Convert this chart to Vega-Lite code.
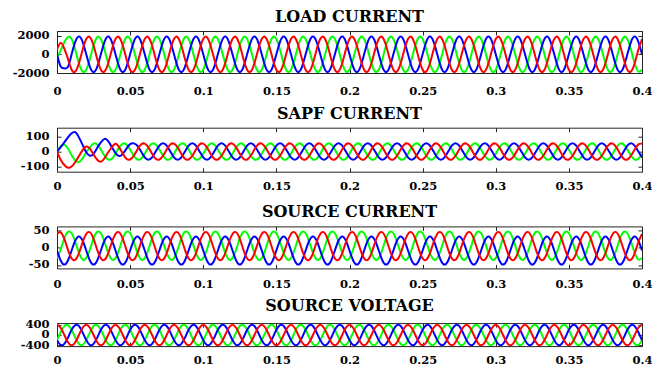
{"$schema":"https://vega.github.io/schema/vega-lite/v6.json","background":"white","padding":{"left":11,"top":8,"right":0,"bottom":0},"bounds":"flush","spacing":54.7,
"config":{"axis":{"title":null,"grid":false,"domain":false,"tickSize":-4,"tickColor":"#262626","labelFont":"DejaVu Serif","labelFontWeight":"bold","labelFontSize":11.5,"labelColor":"#000000","labelOverlap":false,"labelFlush":false,"labelBound":false},"axisX":{"labelPadding":14},"axisY":{"labelPadding":12},"view":{"stroke":"#262626","strokeWidth":1},"title":{"font":"DejaVu Serif","fontWeight":"bold","fontSize":16,"color":"#000000","anchor":"middle","offset":5}},
"data":{"values":[
{"t":0,"l1":-300,"l2":0,"l3":500,"s1":0,"s2":0,"s3":0,"c1":-30,"c2":-8,"c3":40,"v1":-200,"v2":-200,"v3":400},
{"t":0.0025,"l1":400,"l2":-1300,"l3":1250,"s1":35,"s2":30,"s3":-55,"c1":-5,"c2":-37,"c3":45,"v1":104,"v2":-386,"v3":282},
{"t":0.005,"l1":1300,"l2":-1500,"l3":600,"s1":45,"s2":62,"s3":-90,"c1":27,"c2":-49,"c3":26,"v1":346,"v2":-346,"v3":0},
{"t":0.0075,"l1":1835,"l2":-1343,"l3":-492,"s1":20,"s2":95,"s3":-108,"c1":46,"c2":-37,"c3":-6,"v1":386,"v2":-104,"v3":-282},
{"t":0.01,"l1":1645,"l2":0,"l3":-1645,"s1":-25,"s2":122,"s3":-100,"c1":42,"c2":-8,"c3":-31,"v1":200,"v2":200,"v3":-400},
{"t":0.0125,"l1":492,"l2":1343,"l3":-1835,"s1":-60,"s2":130,"s3":-70,"c1":17,"c2":21,"c3":-35,"v1":-104,"v2":386,"v3":-282},
{"t":0.015,"l1":-950,"l2":1900,"l3":-950,"s1":-70,"s2":95,"s3":-30,"c1":-15,"c2":33,"c3":-16,"v1":-346,"v2":346,"v3":0},
{"t":0.0175,"l1":-1835,"l2":1343,"l3":492,"s1":-45,"s2":45,"s3":10,"c1":-34,"c2":21,"c3":16,"v1":-386,"v2":104,"v3":282},
{"t":0.02,"l1":-1645,"l2":0,"l3":1645,"s1":-5,"s2":-5,"s3":34,"c1":-30,"c2":-8,"c3":40,"v1":-200,"v2":-200,"v3":400},
{"t":0.0225,"l1":-492,"l2":-1343,"l3":1835,"s1":28,"s2":-28,"s3":20,"c1":-5,"c2":-37,"c3":45,"v1":104,"v2":-386,"v3":282},
{"t":0.025,"l1":950,"l2":-1900,"l3":950,"s1":53,"s2":-15,"s3":-20,"c1":27,"c2":-49,"c3":26,"v1":346,"v2":-346,"v3":0},
{"t":0.0275,"l1":1835,"l2":-1343,"l3":-492,"s1":48,"s2":25,"s3":-55,"c1":46,"c2":-37,"c3":-6,"v1":386,"v2":-104,"v3":-282},
{"t":0.03,"l1":1645,"l2":0,"l3":-1645,"s1":14,"s2":62,"s3":-68,"c1":42,"c2":-8,"c3":-31,"v1":200,"v2":200,"v3":-400},
{"t":0.0325,"l1":492,"l2":1343,"l3":-1835,"s1":-28,"s2":85,"s3":-45,"c1":17,"c2":21,"c3":-35,"v1":-104,"v2":386,"v3":-282},
{"t":0.035,"l1":-950,"l2":1900,"l3":-950,"s1":-53,"s2":70,"s3":-5,"c1":-15,"c2":33,"c3":-16,"v1":-346,"v2":346,"v3":0},
{"t":0.0375,"l1":-1835,"l2":1343,"l3":492,"s1":-48,"s2":30,"s3":30,"c1":-34,"c2":21,"c3":16,"v1":-386,"v2":104,"v3":282},
{"t":0.04,"l1":-1645,"l2":0,"l3":1645,"s1":-14,"s2":-10,"s3":53,"c1":-30,"c2":-8,"c3":40,"v1":-200,"v2":-200,"v3":400},
{"t":0.0425,"l1":-492,"l2":-1343,"l3":1835,"s1":28,"s2":-30,"s3":28,"c1":-5,"c2":-37,"c3":45,"v1":104,"v2":-386,"v3":282},
{"t":0.045,"l1":950,"l2":-1900,"l3":950,"s1":53,"s2":-15,"s3":-14,"c1":27,"c2":-49,"c3":26,"v1":346,"v2":-346,"v3":0},
{"t":0.0475,"l1":1835,"l2":-1343,"l3":-492,"s1":48,"s2":20,"s3":-48,"c1":46,"c2":-37,"c3":-6,"v1":386,"v2":-104,"v3":-282},
{"t":0.05,"l1":1645,"l2":0,"l3":-1645,"s1":14,"s2":50,"s3":-53,"c1":42,"c2":-8,"c3":-31,"v1":200,"v2":200,"v3":-400},
{"t":0.0525,"l1":492,"l2":1343,"l3":-1835,"s1":-28,"s2":55,"s3":-28,"c1":17,"c2":21,"c3":-35,"v1":-104,"v2":386,"v3":-282},
{"t":0.055,"l1":-950,"l2":1900,"l3":-950,"s1":-53,"s2":39,"s3":14,"c1":-15,"c2":33,"c3":-16,"v1":-346,"v2":346,"v3":0},
{"t":0.0575,"l1":-1835,"l2":1343,"l3":492,"s1":-48,"s2":0,"s3":48,"c1":-34,"c2":21,"c3":16,"v1":-386,"v2":104,"v3":282},
{"t":0.06,"l1":-1645,"l2":0,"l3":1645,"s1":-14,"s2":-39,"s3":53,"c1":-30,"c2":-8,"c3":40,"v1":-200,"v2":-200,"v3":400},
{"t":0.0625,"l1":-492,"l2":-1343,"l3":1835,"s1":28,"s2":-55,"s3":28,"c1":-5,"c2":-37,"c3":45,"v1":104,"v2":-386,"v3":282},
{"t":0.065,"l1":950,"l2":-1900,"l3":950,"s1":53,"s2":-39,"s3":-14,"c1":27,"c2":-49,"c3":26,"v1":346,"v2":-346,"v3":0},
{"t":0.0675,"l1":1835,"l2":-1343,"l3":-492,"s1":48,"s2":0,"s3":-48,"c1":46,"c2":-37,"c3":-6,"v1":386,"v2":-104,"v3":-282},
{"t":0.07,"l1":1645,"l2":0,"l3":-1645,"s1":14,"s2":39,"s3":-53,"c1":42,"c2":-8,"c3":-31,"v1":200,"v2":200,"v3":-400},
{"t":0.0725,"l1":492,"l2":1343,"l3":-1835,"s1":-28,"s2":55,"s3":-28,"c1":17,"c2":21,"c3":-35,"v1":-104,"v2":386,"v3":-282},
{"t":0.075,"l1":-950,"l2":1900,"l3":-950,"s1":-53,"s2":39,"s3":14,"c1":-15,"c2":33,"c3":-16,"v1":-346,"v2":346,"v3":0},
{"t":0.0775,"l1":-1835,"l2":1343,"l3":492,"s1":-48,"s2":0,"s3":48,"c1":-34,"c2":21,"c3":16,"v1":-386,"v2":104,"v3":282},
{"t":0.08,"l1":-1645,"l2":0,"l3":1645,"s1":-14,"s2":-39,"s3":53,"c1":-30,"c2":-8,"c3":40,"v1":-200,"v2":-200,"v3":400},
{"t":0.0825,"l1":-492,"l2":-1343,"l3":1835,"s1":28,"s2":-55,"s3":28,"c1":-5,"c2":-37,"c3":45,"v1":104,"v2":-386,"v3":282},
{"t":0.085,"l1":950,"l2":-1900,"l3":950,"s1":53,"s2":-39,"s3":-14,"c1":27,"c2":-49,"c3":26,"v1":346,"v2":-346,"v3":0},
{"t":0.0875,"l1":1835,"l2":-1343,"l3":-492,"s1":48,"s2":0,"s3":-48,"c1":46,"c2":-37,"c3":-6,"v1":386,"v2":-104,"v3":-282},
{"t":0.09,"l1":1645,"l2":0,"l3":-1645,"s1":14,"s2":39,"s3":-53,"c1":42,"c2":-8,"c3":-31,"v1":200,"v2":200,"v3":-400},
{"t":0.0925,"l1":492,"l2":1343,"l3":-1835,"s1":-28,"s2":55,"s3":-28,"c1":17,"c2":21,"c3":-35,"v1":-104,"v2":386,"v3":-282},
{"t":0.095,"l1":-950,"l2":1900,"l3":-950,"s1":-53,"s2":39,"s3":14,"c1":-15,"c2":33,"c3":-16,"v1":-346,"v2":346,"v3":0},
{"t":0.0975,"l1":-1835,"l2":1343,"l3":492,"s1":-48,"s2":0,"s3":48,"c1":-34,"c2":21,"c3":16,"v1":-386,"v2":104,"v3":282},
{"t":0.1,"l1":-1645,"l2":0,"l3":1645,"s1":-14,"s2":-39,"s3":53,"c1":-30,"c2":-8,"c3":40,"v1":-200,"v2":-200,"v3":400},
{"t":0.1025,"l1":-492,"l2":-1343,"l3":1835,"s1":28,"s2":-55,"s3":28,"c1":-5,"c2":-37,"c3":45,"v1":104,"v2":-386,"v3":282},
{"t":0.105,"l1":950,"l2":-1900,"l3":950,"s1":53,"s2":-39,"s3":-14,"c1":27,"c2":-49,"c3":26,"v1":346,"v2":-346,"v3":0},
{"t":0.1075,"l1":1835,"l2":-1343,"l3":-492,"s1":48,"s2":0,"s3":-48,"c1":46,"c2":-37,"c3":-6,"v1":386,"v2":-104,"v3":-282},
{"t":0.11,"l1":1645,"l2":0,"l3":-1645,"s1":14,"s2":39,"s3":-53,"c1":42,"c2":-8,"c3":-31,"v1":200,"v2":200,"v3":-400},
{"t":0.1125,"l1":492,"l2":1343,"l3":-1835,"s1":-28,"s2":55,"s3":-28,"c1":17,"c2":21,"c3":-35,"v1":-104,"v2":386,"v3":-282},
{"t":0.115,"l1":-950,"l2":1900,"l3":-950,"s1":-53,"s2":39,"s3":14,"c1":-15,"c2":33,"c3":-16,"v1":-346,"v2":346,"v3":0},
{"t":0.1175,"l1":-1835,"l2":1343,"l3":492,"s1":-48,"s2":0,"s3":48,"c1":-34,"c2":21,"c3":16,"v1":-386,"v2":104,"v3":282},
{"t":0.12,"l1":-1645,"l2":0,"l3":1645,"s1":-14,"s2":-39,"s3":53,"c1":-30,"c2":-8,"c3":40,"v1":-200,"v2":-200,"v3":400},
{"t":0.1225,"l1":-492,"l2":-1343,"l3":1835,"s1":28,"s2":-55,"s3":28,"c1":-5,"c2":-37,"c3":45,"v1":104,"v2":-386,"v3":282},
{"t":0.125,"l1":950,"l2":-1900,"l3":950,"s1":53,"s2":-39,"s3":-14,"c1":27,"c2":-49,"c3":26,"v1":346,"v2":-346,"v3":0},
{"t":0.1275,"l1":1835,"l2":-1343,"l3":-492,"s1":48,"s2":0,"s3":-48,"c1":46,"c2":-37,"c3":-6,"v1":386,"v2":-104,"v3":-282},
{"t":0.13,"l1":1645,"l2":0,"l3":-1645,"s1":14,"s2":39,"s3":-53,"c1":42,"c2":-8,"c3":-31,"v1":200,"v2":200,"v3":-400},
{"t":0.1325,"l1":492,"l2":1343,"l3":-1835,"s1":-28,"s2":55,"s3":-28,"c1":17,"c2":21,"c3":-35,"v1":-104,"v2":386,"v3":-282},
{"t":0.135,"l1":-950,"l2":1900,"l3":-950,"s1":-53,"s2":39,"s3":14,"c1":-15,"c2":33,"c3":-16,"v1":-346,"v2":346,"v3":0},
{"t":0.1375,"l1":-1835,"l2":1343,"l3":492,"s1":-48,"s2":0,"s3":48,"c1":-34,"c2":21,"c3":16,"v1":-386,"v2":104,"v3":282},
{"t":0.14,"l1":-1645,"l2":0,"l3":1645,"s1":-14,"s2":-39,"s3":53,"c1":-30,"c2":-8,"c3":40,"v1":-200,"v2":-200,"v3":400},
{"t":0.1425,"l1":-492,"l2":-1343,"l3":1835,"s1":28,"s2":-55,"s3":28,"c1":-5,"c2":-37,"c3":45,"v1":104,"v2":-386,"v3":282},
{"t":0.145,"l1":950,"l2":-1900,"l3":950,"s1":53,"s2":-39,"s3":-14,"c1":27,"c2":-49,"c3":26,"v1":346,"v2":-346,"v3":0},
{"t":0.1475,"l1":1835,"l2":-1343,"l3":-492,"s1":48,"s2":0,"s3":-48,"c1":46,"c2":-37,"c3":-6,"v1":386,"v2":-104,"v3":-282},
{"t":0.15,"l1":1645,"l2":0,"l3":-1645,"s1":14,"s2":39,"s3":-53,"c1":42,"c2":-8,"c3":-31,"v1":200,"v2":200,"v3":-400},
{"t":0.1525,"l1":492,"l2":1343,"l3":-1835,"s1":-28,"s2":55,"s3":-28,"c1":17,"c2":21,"c3":-35,"v1":-104,"v2":386,"v3":-282},
{"t":0.155,"l1":-950,"l2":1900,"l3":-950,"s1":-53,"s2":39,"s3":14,"c1":-15,"c2":33,"c3":-16,"v1":-346,"v2":346,"v3":0},
{"t":0.1575,"l1":-1835,"l2":1343,"l3":492,"s1":-48,"s2":0,"s3":48,"c1":-34,"c2":21,"c3":16,"v1":-386,"v2":104,"v3":282},
{"t":0.16,"l1":-1645,"l2":0,"l3":1645,"s1":-14,"s2":-39,"s3":53,"c1":-30,"c2":-8,"c3":40,"v1":-200,"v2":-200,"v3":400},
{"t":0.1625,"l1":-492,"l2":-1343,"l3":1835,"s1":28,"s2":-55,"s3":28,"c1":-5,"c2":-37,"c3":45,"v1":104,"v2":-386,"v3":282},
{"t":0.165,"l1":950,"l2":-1900,"l3":950,"s1":53,"s2":-39,"s3":-14,"c1":27,"c2":-49,"c3":26,"v1":346,"v2":-346,"v3":0},
{"t":0.1675,"l1":1835,"l2":-1343,"l3":-492,"s1":48,"s2":0,"s3":-48,"c1":46,"c2":-37,"c3":-6,"v1":386,"v2":-104,"v3":-282},
{"t":0.17,"l1":1645,"l2":0,"l3":-1645,"s1":14,"s2":39,"s3":-53,"c1":42,"c2":-8,"c3":-31,"v1":200,"v2":200,"v3":-400},
{"t":0.1725,"l1":492,"l2":1343,"l3":-1835,"s1":-28,"s2":55,"s3":-28,"c1":17,"c2":21,"c3":-35,"v1":-104,"v2":386,"v3":-282},
{"t":0.175,"l1":-950,"l2":1900,"l3":-950,"s1":-53,"s2":39,"s3":14,"c1":-15,"c2":33,"c3":-16,"v1":-346,"v2":346,"v3":0},
{"t":0.1775,"l1":-1835,"l2":1343,"l3":492,"s1":-48,"s2":0,"s3":48,"c1":-34,"c2":21,"c3":16,"v1":-386,"v2":104,"v3":282},
{"t":0.18,"l1":-1645,"l2":0,"l3":1645,"s1":-14,"s2":-39,"s3":53,"c1":-30,"c2":-8,"c3":40,"v1":-200,"v2":-200,"v3":400},
{"t":0.1825,"l1":-492,"l2":-1343,"l3":1835,"s1":28,"s2":-55,"s3":28,"c1":-5,"c2":-37,"c3":45,"v1":104,"v2":-386,"v3":282},
{"t":0.185,"l1":950,"l2":-1900,"l3":950,"s1":53,"s2":-39,"s3":-14,"c1":27,"c2":-49,"c3":26,"v1":346,"v2":-346,"v3":0},
{"t":0.1875,"l1":1835,"l2":-1343,"l3":-492,"s1":48,"s2":0,"s3":-48,"c1":46,"c2":-37,"c3":-6,"v1":386,"v2":-104,"v3":-282},
{"t":0.19,"l1":1645,"l2":0,"l3":-1645,"s1":14,"s2":39,"s3":-53,"c1":42,"c2":-8,"c3":-31,"v1":200,"v2":200,"v3":-400},
{"t":0.1925,"l1":492,"l2":1343,"l3":-1835,"s1":-28,"s2":55,"s3":-28,"c1":17,"c2":21,"c3":-35,"v1":-104,"v2":386,"v3":-282},
{"t":0.195,"l1":-950,"l2":1900,"l3":-950,"s1":-53,"s2":39,"s3":14,"c1":-15,"c2":33,"c3":-16,"v1":-346,"v2":346,"v3":0},
{"t":0.1975,"l1":-1835,"l2":1343,"l3":492,"s1":-48,"s2":0,"s3":48,"c1":-34,"c2":21,"c3":16,"v1":-386,"v2":104,"v3":282},
{"t":0.2,"l1":-1645,"l2":0,"l3":1645,"s1":-14,"s2":-39,"s3":53,"c1":-30,"c2":-8,"c3":40,"v1":-200,"v2":-200,"v3":400},
{"t":0.2025,"l1":-492,"l2":-1343,"l3":1835,"s1":28,"s2":-55,"s3":28,"c1":-5,"c2":-37,"c3":45,"v1":104,"v2":-386,"v3":282},
{"t":0.205,"l1":950,"l2":-1900,"l3":950,"s1":53,"s2":-39,"s3":-14,"c1":27,"c2":-49,"c3":26,"v1":346,"v2":-346,"v3":0},
{"t":0.2075,"l1":1835,"l2":-1343,"l3":-492,"s1":48,"s2":0,"s3":-48,"c1":46,"c2":-37,"c3":-6,"v1":386,"v2":-104,"v3":-282},
{"t":0.21,"l1":1645,"l2":0,"l3":-1645,"s1":14,"s2":39,"s3":-53,"c1":42,"c2":-8,"c3":-31,"v1":200,"v2":200,"v3":-400},
{"t":0.2125,"l1":492,"l2":1343,"l3":-1835,"s1":-28,"s2":55,"s3":-28,"c1":17,"c2":21,"c3":-35,"v1":-104,"v2":386,"v3":-282},
{"t":0.215,"l1":-950,"l2":1900,"l3":-950,"s1":-53,"s2":39,"s3":14,"c1":-15,"c2":33,"c3":-16,"v1":-346,"v2":346,"v3":0},
{"t":0.2175,"l1":-1835,"l2":1343,"l3":492,"s1":-48,"s2":0,"s3":48,"c1":-34,"c2":21,"c3":16,"v1":-386,"v2":104,"v3":282},
{"t":0.22,"l1":-1645,"l2":0,"l3":1645,"s1":-14,"s2":-39,"s3":53,"c1":-30,"c2":-8,"c3":40,"v1":-200,"v2":-200,"v3":400},
{"t":0.2225,"l1":-492,"l2":-1343,"l3":1835,"s1":28,"s2":-55,"s3":28,"c1":-5,"c2":-37,"c3":45,"v1":104,"v2":-386,"v3":282},
{"t":0.225,"l1":950,"l2":-1900,"l3":950,"s1":53,"s2":-39,"s3":-14,"c1":27,"c2":-49,"c3":26,"v1":346,"v2":-346,"v3":0},
{"t":0.2275,"l1":1835,"l2":-1343,"l3":-492,"s1":48,"s2":0,"s3":-48,"c1":46,"c2":-37,"c3":-6,"v1":386,"v2":-104,"v3":-282},
{"t":0.23,"l1":1645,"l2":0,"l3":-1645,"s1":14,"s2":39,"s3":-53,"c1":42,"c2":-8,"c3":-31,"v1":200,"v2":200,"v3":-400},
{"t":0.2325,"l1":492,"l2":1343,"l3":-1835,"s1":-28,"s2":55,"s3":-28,"c1":17,"c2":21,"c3":-35,"v1":-104,"v2":386,"v3":-282},
{"t":0.235,"l1":-950,"l2":1900,"l3":-950,"s1":-53,"s2":39,"s3":14,"c1":-15,"c2":33,"c3":-16,"v1":-346,"v2":346,"v3":0},
{"t":0.2375,"l1":-1835,"l2":1343,"l3":492,"s1":-48,"s2":0,"s3":48,"c1":-34,"c2":21,"c3":16,"v1":-386,"v2":104,"v3":282},
{"t":0.24,"l1":-1645,"l2":0,"l3":1645,"s1":-14,"s2":-39,"s3":53,"c1":-30,"c2":-8,"c3":40,"v1":-200,"v2":-200,"v3":400},
{"t":0.2425,"l1":-492,"l2":-1343,"l3":1835,"s1":28,"s2":-55,"s3":28,"c1":-5,"c2":-37,"c3":45,"v1":104,"v2":-386,"v3":282},
{"t":0.245,"l1":950,"l2":-1900,"l3":950,"s1":53,"s2":-39,"s3":-14,"c1":27,"c2":-49,"c3":26,"v1":346,"v2":-346,"v3":0},
{"t":0.2475,"l1":1835,"l2":-1343,"l3":-492,"s1":48,"s2":0,"s3":-48,"c1":46,"c2":-37,"c3":-6,"v1":386,"v2":-104,"v3":-282},
{"t":0.25,"l1":1645,"l2":0,"l3":-1645,"s1":14,"s2":39,"s3":-53,"c1":42,"c2":-8,"c3":-31,"v1":200,"v2":200,"v3":-400},
{"t":0.2525,"l1":492,"l2":1343,"l3":-1835,"s1":-28,"s2":55,"s3":-28,"c1":17,"c2":21,"c3":-35,"v1":-104,"v2":386,"v3":-282},
{"t":0.255,"l1":-950,"l2":1900,"l3":-950,"s1":-53,"s2":39,"s3":14,"c1":-15,"c2":33,"c3":-16,"v1":-346,"v2":346,"v3":0},
{"t":0.2575,"l1":-1835,"l2":1343,"l3":492,"s1":-48,"s2":0,"s3":48,"c1":-34,"c2":21,"c3":16,"v1":-386,"v2":104,"v3":282},
{"t":0.26,"l1":-1645,"l2":0,"l3":1645,"s1":-14,"s2":-39,"s3":53,"c1":-30,"c2":-8,"c3":40,"v1":-200,"v2":-200,"v3":400},
{"t":0.2625,"l1":-492,"l2":-1343,"l3":1835,"s1":28,"s2":-55,"s3":28,"c1":-5,"c2":-37,"c3":45,"v1":104,"v2":-386,"v3":282},
{"t":0.265,"l1":950,"l2":-1900,"l3":950,"s1":53,"s2":-39,"s3":-14,"c1":27,"c2":-49,"c3":26,"v1":346,"v2":-346,"v3":0},
{"t":0.2675,"l1":1835,"l2":-1343,"l3":-492,"s1":48,"s2":0,"s3":-48,"c1":46,"c2":-37,"c3":-6,"v1":386,"v2":-104,"v3":-282},
{"t":0.27,"l1":1645,"l2":0,"l3":-1645,"s1":14,"s2":39,"s3":-53,"c1":42,"c2":-8,"c3":-31,"v1":200,"v2":200,"v3":-400},
{"t":0.2725,"l1":492,"l2":1343,"l3":-1835,"s1":-28,"s2":55,"s3":-28,"c1":17,"c2":21,"c3":-35,"v1":-104,"v2":386,"v3":-282},
{"t":0.275,"l1":-950,"l2":1900,"l3":-950,"s1":-53,"s2":39,"s3":14,"c1":-15,"c2":33,"c3":-16,"v1":-346,"v2":346,"v3":0},
{"t":0.2775,"l1":-1835,"l2":1343,"l3":492,"s1":-48,"s2":0,"s3":48,"c1":-34,"c2":21,"c3":16,"v1":-386,"v2":104,"v3":282},
{"t":0.28,"l1":-1645,"l2":0,"l3":1645,"s1":-14,"s2":-39,"s3":53,"c1":-30,"c2":-8,"c3":40,"v1":-200,"v2":-200,"v3":400},
{"t":0.2825,"l1":-492,"l2":-1343,"l3":1835,"s1":28,"s2":-55,"s3":28,"c1":-5,"c2":-37,"c3":45,"v1":104,"v2":-386,"v3":282},
{"t":0.285,"l1":950,"l2":-1900,"l3":950,"s1":53,"s2":-39,"s3":-14,"c1":27,"c2":-49,"c3":26,"v1":346,"v2":-346,"v3":0},
{"t":0.2875,"l1":1835,"l2":-1343,"l3":-492,"s1":48,"s2":0,"s3":-48,"c1":46,"c2":-37,"c3":-6,"v1":386,"v2":-104,"v3":-282},
{"t":0.29,"l1":1645,"l2":0,"l3":-1645,"s1":14,"s2":39,"s3":-53,"c1":42,"c2":-8,"c3":-31,"v1":200,"v2":200,"v3":-400},
{"t":0.2925,"l1":492,"l2":1343,"l3":-1835,"s1":-28,"s2":55,"s3":-28,"c1":17,"c2":21,"c3":-35,"v1":-104,"v2":386,"v3":-282},
{"t":0.295,"l1":-950,"l2":1900,"l3":-950,"s1":-53,"s2":39,"s3":14,"c1":-15,"c2":33,"c3":-16,"v1":-346,"v2":346,"v3":0},
{"t":0.2975,"l1":-1835,"l2":1343,"l3":492,"s1":-48,"s2":0,"s3":48,"c1":-34,"c2":21,"c3":16,"v1":-386,"v2":104,"v3":282},
{"t":0.3,"l1":-1645,"l2":0,"l3":1645,"s1":-14,"s2":-39,"s3":53,"c1":-30,"c2":-8,"c3":40,"v1":-200,"v2":-200,"v3":400},
{"t":0.3025,"l1":-492,"l2":-1343,"l3":1835,"s1":28,"s2":-55,"s3":28,"c1":-5,"c2":-37,"c3":45,"v1":104,"v2":-386,"v3":282},
{"t":0.305,"l1":950,"l2":-1900,"l3":950,"s1":53,"s2":-39,"s3":-14,"c1":27,"c2":-49,"c3":26,"v1":346,"v2":-346,"v3":0},
{"t":0.3075,"l1":1835,"l2":-1343,"l3":-492,"s1":48,"s2":0,"s3":-48,"c1":46,"c2":-37,"c3":-6,"v1":386,"v2":-104,"v3":-282},
{"t":0.31,"l1":1645,"l2":0,"l3":-1645,"s1":14,"s2":39,"s3":-53,"c1":42,"c2":-8,"c3":-31,"v1":200,"v2":200,"v3":-400},
{"t":0.3125,"l1":492,"l2":1343,"l3":-1835,"s1":-28,"s2":55,"s3":-28,"c1":17,"c2":21,"c3":-35,"v1":-104,"v2":386,"v3":-282},
{"t":0.315,"l1":-950,"l2":1900,"l3":-950,"s1":-53,"s2":39,"s3":14,"c1":-15,"c2":33,"c3":-16,"v1":-346,"v2":346,"v3":0},
{"t":0.3175,"l1":-1835,"l2":1343,"l3":492,"s1":-48,"s2":0,"s3":48,"c1":-34,"c2":21,"c3":16,"v1":-386,"v2":104,"v3":282},
{"t":0.32,"l1":-1645,"l2":0,"l3":1645,"s1":-14,"s2":-39,"s3":53,"c1":-30,"c2":-8,"c3":40,"v1":-200,"v2":-200,"v3":400},
{"t":0.3225,"l1":-492,"l2":-1343,"l3":1835,"s1":28,"s2":-55,"s3":28,"c1":-5,"c2":-37,"c3":45,"v1":104,"v2":-386,"v3":282},
{"t":0.325,"l1":950,"l2":-1900,"l3":950,"s1":53,"s2":-39,"s3":-14,"c1":27,"c2":-49,"c3":26,"v1":346,"v2":-346,"v3":0},
{"t":0.3275,"l1":1835,"l2":-1343,"l3":-492,"s1":48,"s2":0,"s3":-48,"c1":46,"c2":-37,"c3":-6,"v1":386,"v2":-104,"v3":-282},
{"t":0.33,"l1":1645,"l2":0,"l3":-1645,"s1":14,"s2":39,"s3":-53,"c1":42,"c2":-8,"c3":-31,"v1":200,"v2":200,"v3":-400},
{"t":0.3325,"l1":492,"l2":1343,"l3":-1835,"s1":-28,"s2":55,"s3":-28,"c1":17,"c2":21,"c3":-35,"v1":-104,"v2":386,"v3":-282},
{"t":0.335,"l1":-950,"l2":1900,"l3":-950,"s1":-53,"s2":39,"s3":14,"c1":-15,"c2":33,"c3":-16,"v1":-346,"v2":346,"v3":0},
{"t":0.3375,"l1":-1835,"l2":1343,"l3":492,"s1":-48,"s2":0,"s3":48,"c1":-34,"c2":21,"c3":16,"v1":-386,"v2":104,"v3":282},
{"t":0.34,"l1":-1645,"l2":0,"l3":1645,"s1":-14,"s2":-39,"s3":53,"c1":-30,"c2":-8,"c3":40,"v1":-200,"v2":-200,"v3":400},
{"t":0.3425,"l1":-492,"l2":-1343,"l3":1835,"s1":28,"s2":-55,"s3":28,"c1":-5,"c2":-37,"c3":45,"v1":104,"v2":-386,"v3":282},
{"t":0.345,"l1":950,"l2":-1900,"l3":950,"s1":53,"s2":-39,"s3":-14,"c1":27,"c2":-49,"c3":26,"v1":346,"v2":-346,"v3":0},
{"t":0.3475,"l1":1835,"l2":-1343,"l3":-492,"s1":48,"s2":0,"s3":-48,"c1":46,"c2":-37,"c3":-6,"v1":386,"v2":-104,"v3":-282},
{"t":0.35,"l1":1645,"l2":0,"l3":-1645,"s1":14,"s2":39,"s3":-53,"c1":42,"c2":-8,"c3":-31,"v1":200,"v2":200,"v3":-400},
{"t":0.3525,"l1":492,"l2":1343,"l3":-1835,"s1":-28,"s2":55,"s3":-28,"c1":17,"c2":21,"c3":-35,"v1":-104,"v2":386,"v3":-282},
{"t":0.355,"l1":-950,"l2":1900,"l3":-950,"s1":-53,"s2":39,"s3":14,"c1":-15,"c2":33,"c3":-16,"v1":-346,"v2":346,"v3":0},
{"t":0.3575,"l1":-1835,"l2":1343,"l3":492,"s1":-48,"s2":0,"s3":48,"c1":-34,"c2":21,"c3":16,"v1":-386,"v2":104,"v3":282},
{"t":0.36,"l1":-1645,"l2":0,"l3":1645,"s1":-14,"s2":-39,"s3":53,"c1":-30,"c2":-8,"c3":40,"v1":-200,"v2":-200,"v3":400},
{"t":0.3625,"l1":-492,"l2":-1343,"l3":1835,"s1":28,"s2":-55,"s3":28,"c1":-5,"c2":-37,"c3":45,"v1":104,"v2":-386,"v3":282},
{"t":0.365,"l1":950,"l2":-1900,"l3":950,"s1":53,"s2":-39,"s3":-14,"c1":27,"c2":-49,"c3":26,"v1":346,"v2":-346,"v3":0},
{"t":0.3675,"l1":1835,"l2":-1343,"l3":-492,"s1":48,"s2":0,"s3":-48,"c1":46,"c2":-37,"c3":-6,"v1":386,"v2":-104,"v3":-282},
{"t":0.37,"l1":1645,"l2":0,"l3":-1645,"s1":14,"s2":39,"s3":-53,"c1":42,"c2":-8,"c3":-31,"v1":200,"v2":200,"v3":-400},
{"t":0.3725,"l1":492,"l2":1343,"l3":-1835,"s1":-28,"s2":55,"s3":-28,"c1":17,"c2":21,"c3":-35,"v1":-104,"v2":386,"v3":-282},
{"t":0.375,"l1":-950,"l2":1900,"l3":-950,"s1":-53,"s2":39,"s3":14,"c1":-15,"c2":33,"c3":-16,"v1":-346,"v2":346,"v3":0},
{"t":0.3775,"l1":-1835,"l2":1343,"l3":492,"s1":-48,"s2":0,"s3":48,"c1":-34,"c2":21,"c3":16,"v1":-386,"v2":104,"v3":282},
{"t":0.38,"l1":-1645,"l2":0,"l3":1645,"s1":-14,"s2":-39,"s3":53,"c1":-30,"c2":-8,"c3":40,"v1":-200,"v2":-200,"v3":400},
{"t":0.3825,"l1":-492,"l2":-1343,"l3":1835,"s1":28,"s2":-55,"s3":28,"c1":-5,"c2":-37,"c3":45,"v1":104,"v2":-386,"v3":282},
{"t":0.385,"l1":950,"l2":-1900,"l3":950,"s1":53,"s2":-39,"s3":-14,"c1":27,"c2":-49,"c3":26,"v1":346,"v2":-346,"v3":0},
{"t":0.3875,"l1":1835,"l2":-1343,"l3":-492,"s1":48,"s2":0,"s3":-48,"c1":46,"c2":-37,"c3":-6,"v1":386,"v2":-104,"v3":-282},
{"t":0.39,"l1":1645,"l2":0,"l3":-1645,"s1":14,"s2":39,"s3":-53,"c1":42,"c2":-8,"c3":-31,"v1":200,"v2":200,"v3":-400},
{"t":0.3925,"l1":492,"l2":1343,"l3":-1835,"s1":-28,"s2":55,"s3":-28,"c1":17,"c2":21,"c3":-35,"v1":-104,"v2":386,"v3":-282},
{"t":0.395,"l1":-950,"l2":1900,"l3":-950,"s1":-53,"s2":39,"s3":14,"c1":-15,"c2":33,"c3":-16,"v1":-346,"v2":346,"v3":0},
{"t":0.3975,"l1":-1835,"l2":1343,"l3":492,"s1":-48,"s2":0,"s3":48,"c1":-34,"c2":21,"c3":16,"v1":-386,"v2":104,"v3":282},
{"t":0.4,"l1":-1645,"l2":0,"l3":1645,"s1":-14,"s2":-39,"s3":53,"c1":-30,"c2":-8,"c3":40,"v1":-200,"v2":-200,"v3":400}
]},
"vconcat":[
{"title":{"text":"LOAD CURRENT"},"width":585,"height":42,"transform":[{"fold":["l1","l2","l3"],"as":["ph","v"]}],
"layer":[
{"mark":{"type":"line","interpolate":"natural","strokeWidth":2,"clip":true},
"encoding":{"x":{"field":"t","type":"quantitative","scale":{"domain":[0,0.4],"nice":false},"axis":{"values":[0,0.05,0.1,0.15,0.2,0.25,0.3,0.35,0.4],"labelExpr":"''+datum.value","labelPadding":16}},
"y":{"field":"v","type":"quantitative","scale":{"domain":[-2000,2500],"nice":false,"zero":false},"axis":{"values":[-2000,0,2000],"labelExpr":"''+datum.value"}},
"color":{"field":"ph","type":"nominal","scale":{"domain":["l1","l2","l3","s1","s2","s3","c1","c2","c3","v1","v2","v3"],"range":["#00ff00","#0000ff","#ff0000","#00ff00","#0000ff","#ff0000","#00ff00","#0000ff","#ff0000","#00ff00","#0000ff","#ff0000"]},"legend":null}}},
{"mark":{"type":"line","opacity":0},
"encoding":{"x":{"field":"t","type":"quantitative","scale":{"domain":[0,0.4],"nice":false},"axis":{"orient":"top","labels":false,"values":[0,0.05,0.1,0.15,0.2,0.25,0.3,0.35,0.4]}},
"y":{"field":"v","type":"quantitative","scale":{"domain":[-2000,2500],"nice":false,"zero":false},"axis":{"orient":"right","labels":false,"values":[-2000,0,2000]}},"detail":{"field":"ph"}}}],
"resolve":{"axis":{"x":"independent","y":"independent"}}},
{"title":{"text":"SAPF CURRENT"},"width":585,"height":44,"transform":[{"fold":["s1","s2","s3"],"as":["ph","v"]}],
"layer":[
{"mark":{"type":"line","interpolate":"natural","strokeWidth":2,"clip":true},
"encoding":{"x":{"field":"t","type":"quantitative","scale":{"domain":[0,0.4],"nice":false},"axis":{"values":[0,0.05,0.1,0.15,0.2,0.25,0.3,0.35,0.4],"labelExpr":"''+datum.value","labelPadding":13}},
"y":{"field":"v","type":"quantitative","scale":{"domain":[-135,160],"nice":false,"zero":false},"axis":{"values":[-100,0,100],"labelExpr":"''+datum.value"}},
"color":{"field":"ph","type":"nominal","scale":{"domain":["l1","l2","l3","s1","s2","s3","c1","c2","c3","v1","v2","v3"],"range":["#00ff00","#0000ff","#ff0000","#00ff00","#0000ff","#ff0000","#00ff00","#0000ff","#ff0000","#00ff00","#0000ff","#ff0000"]},"legend":null}}},
{"mark":{"type":"line","opacity":0},
"encoding":{"x":{"field":"t","type":"quantitative","scale":{"domain":[0,0.4],"nice":false},"axis":{"orient":"top","labels":false,"values":[0,0.05,0.1,0.15,0.2,0.25,0.3,0.35,0.4]}},
"y":{"field":"v","type":"quantitative","scale":{"domain":[-135,160],"nice":false,"zero":false},"axis":{"orient":"right","labels":false,"values":[-100,0,100]}},"detail":{"field":"ph"}}}],
"resolve":{"axis":{"x":"independent","y":"independent"}}},
{"title":{"text":"SOURCE CURRENT"},"width":585,"height":42,"transform":[{"fold":["c1","c2","c3"],"as":["ph","v"]}],
"layer":[
{"mark":{"type":"line","interpolate":"natural","strokeWidth":2,"clip":true},
"encoding":{"x":{"field":"t","type":"quantitative","scale":{"domain":[0,0.4],"nice":false},"axis":{"values":[0,0.05,0.1,0.15,0.2,0.25,0.3,0.35,0.4],"labelExpr":"''+datum.value","labelPadding":14.5}},
"y":{"field":"v","type":"quantitative","scale":{"domain":[-60,62],"nice":false,"zero":false},"axis":{"values":[-50,0,50],"labelExpr":"''+datum.value"}},
"color":{"field":"ph","type":"nominal","scale":{"domain":["l1","l2","l3","s1","s2","s3","c1","c2","c3","v1","v2","v3"],"range":["#00ff00","#0000ff","#ff0000","#00ff00","#0000ff","#ff0000","#00ff00","#0000ff","#ff0000","#00ff00","#0000ff","#ff0000"]},"legend":null}}},
{"mark":{"type":"line","opacity":0},
"encoding":{"x":{"field":"t","type":"quantitative","scale":{"domain":[0,0.4],"nice":false},"axis":{"orient":"top","labels":false,"values":[0,0.05,0.1,0.15,0.2,0.25,0.3,0.35,0.4]}},
"y":{"field":"v","type":"quantitative","scale":{"domain":[-60,62],"nice":false,"zero":false},"axis":{"orient":"right","labels":false,"values":[-50,0,50]}},"detail":{"field":"ph"}}}],
"resolve":{"axis":{"x":"independent","y":"independent"}}},
{"title":{"text":"SOURCE VOLTAGE"},"width":585,"height":23,"transform":[{"fold":["v1","v2","v3"],"as":["ph","v"]}],
"layer":[
{"mark":{"type":"line","interpolate":"natural","strokeWidth":2,"clip":true},
"encoding":{"x":{"field":"t","type":"quantitative","scale":{"domain":[0,0.4],"nice":false},"axis":{"values":[0,0.05,0.1,0.15,0.2,0.25,0.3,0.35,0.4],"labelExpr":"''+datum.value","labelPadding":12.5}},
"y":{"field":"v","type":"quantitative","scale":{"domain":[-430,460],"nice":false,"zero":false},"axis":{"values":[-400,0,400],"labelExpr":"''+datum.value"}},
"color":{"field":"ph","type":"nominal","scale":{"domain":["l1","l2","l3","s1","s2","s3","c1","c2","c3","v1","v2","v3"],"range":["#00ff00","#0000ff","#ff0000","#00ff00","#0000ff","#ff0000","#00ff00","#0000ff","#ff0000","#00ff00","#0000ff","#ff0000"]},"legend":null}}},
{"mark":{"type":"line","opacity":0},
"encoding":{"x":{"field":"t","type":"quantitative","scale":{"domain":[0,0.4],"nice":false},"axis":{"orient":"top","labels":false,"values":[0,0.05,0.1,0.15,0.2,0.25,0.3,0.35,0.4]}},
"y":{"field":"v","type":"quantitative","scale":{"domain":[-430,460],"nice":false,"zero":false},"axis":{"orient":"right","labels":false,"values":[-400,0,400]}},"detail":{"field":"ph"}}}],
"resolve":{"axis":{"x":"independent","y":"independent"}}}
]}
